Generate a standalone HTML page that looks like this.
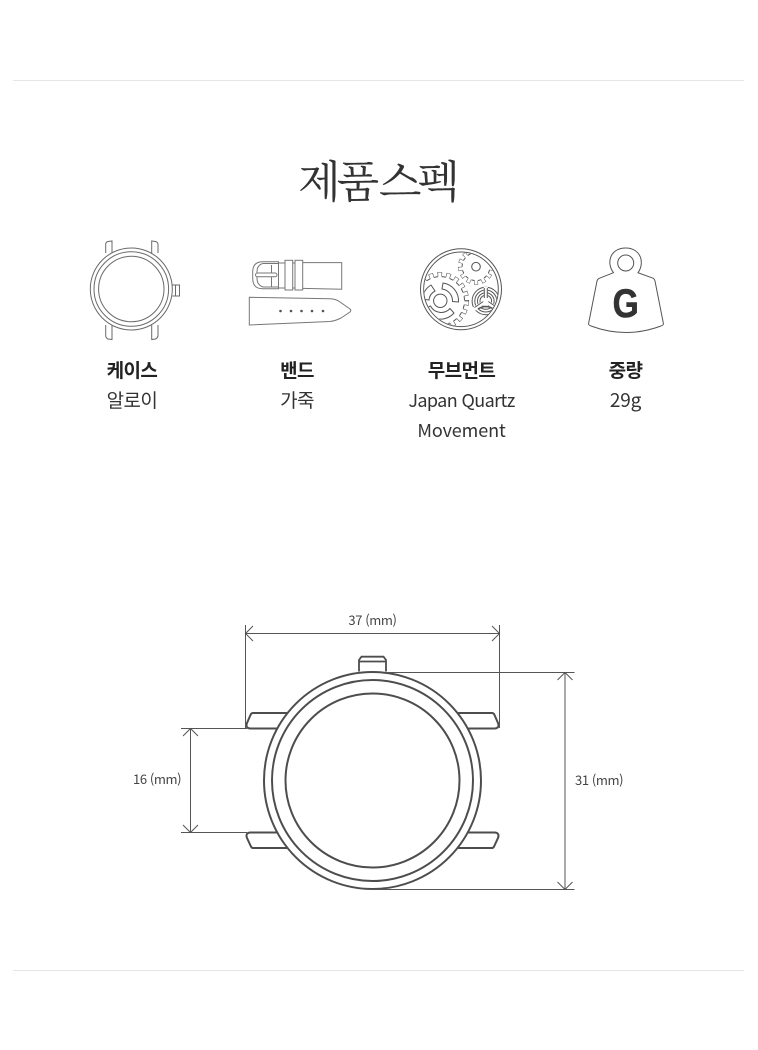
<!DOCTYPE html>
<html lang="ko"><head><meta charset="utf-8"><title>제품 스펙</title>
<style>
html,body{margin:0;padding:0;background:#fff}
svg{display:block}
text{font-family:"Liberation Sans","Noto Sans CJK KR",sans-serif}
.k{font-family:"Noto Sans CJK KR","Liberation Sans",sans-serif;text-anchor:middle;font-size:19px;fill:#333;letter-spacing:-.6px}
.l{font-size:18px;letter-spacing:-.6px}
.b{font-weight:700;fill:#222}
.d{font-family:"Noto Sans CJK KR","Liberation Sans",sans-serif;font-size:13px;fill:#444;letter-spacing:-.4px}
</style></head><body>
<svg width="758" height="1050" viewBox="0 0 758 1050" xmlns="http://www.w3.org/2000/svg">
<defs><clipPath id="mv"><circle cx="461" cy="289.3" r="36.8"/></clipPath></defs>
<rect x="13" y="80" width="731" height="1" fill="#e6e6e6"/>
<rect x="13" y="970" width="731" height="1" fill="#e6e6e6"/>
<text x="377" y="197" text-anchor="middle" style="font-family:'Noto Serif CJK SC','Noto Serif CJK KR',serif;font-size:44px;fill:#333;letter-spacing:-4px;word-spacing:-6px">제품 스펙</text>

<!-- watch icon -->
<g fill="none" stroke="#6a6a6a" stroke-width="1">
<path d="M105.7 253V244Q106 242 108 241.5L112 241V253M105.7 325V336Q106 338 108 339L112 339.5V325"/>
<path d="M151.7 253V241L155.5 241.5Q157.5 242 158 244V253M151.7 325V339.5L155.5 339Q157.5 338 158 336V325"/>
<circle cx="131.3" cy="289" r="41"/><circle cx="131.3" cy="289" r="37.3"/><circle cx="131.3" cy="289" r="32.7"/>
<path d="M172.5 285H179.5V296H172.5M175.5 285V296"/>
</g>

<!-- strap icon -->
<g fill="none" stroke="#777" stroke-width="1">
<path d="M279 261.7H262Q252.7 262 252.7 272V278Q252.7 288.7 262 288.7H279"/>
<path d="M278 263.5H263Q257 265 257 272V278Q257 285 263 287H278"/>
<path d="M271.5 265V287M278.5 262V288.5"/>
<rect x="255.5" y="273" width="21.5" height="3.8" rx="1.9" fill="#fff"/>
<rect x="285" y="260.3" width="7.7" height="29.7"/>
<rect x="295" y="260.3" width="7.7" height="29.7"/>
<path d="M278.5 263H285M278.5 288H285M292.7 263H295M292.7 288H295M302.7 262.6H341.7V289.3L302.7 288.4"/>
<path d="M249.3 297.3L330 298.8Q336 299 340 302L350 309Q351.5 310.5 350 312L341 318Q335 321 330 321.5L249.3 325Z"/>
</g>
<g fill="#555"><circle cx="280.5" cy="311" r="1.3"/><circle cx="291" cy="311" r="1.3"/><circle cx="301.5" cy="311" r="1.3"/><circle cx="312" cy="311" r="1.3"/><circle cx="323" cy="311" r="1.3"/></g>

<!-- movement icon -->
<g fill="none" stroke="#555" stroke-width="1">
<circle cx="461" cy="289.3" r="40.5"/><circle cx="461" cy="289.3" r="37.3"/>
<g clip-path="url(#mv)">
<!-- large gear -->
<circle cx="440.3" cy="300.8" r="26.5" pathLength="360" stroke-width="4.6" stroke-dasharray="10 8.947"/>
<circle cx="440.3" cy="300.8" r="26" pathLength="360" stroke="#fff" stroke-width="4.6" stroke-dasharray="7.4 11.547" stroke-dashoffset="-1.3"/>
<circle cx="440.3" cy="300.8" r="24" fill="#fff" stroke="none"/>
<circle cx="440.3" cy="300.8" r="24.2" pathLength="360" stroke-dasharray="9.4 9.547" stroke-dashoffset="-9.8"/>
<!-- small gear -->
<circle cx="476" cy="266.7" r="16" pathLength="360" stroke-width="4.2" stroke-dasharray="14 13.692"/>
<circle cx="476" cy="266.7" r="15.5" pathLength="360" stroke="#fff" stroke-width="4.2" stroke-dasharray="10.4 17.292" stroke-dashoffset="-1.8"/>
<circle cx="476" cy="266.7" r="13.7" fill="#fff" stroke="none"/>
<circle cx="476" cy="266.7" r="13.9" pathLength="360" stroke-dasharray="13.2 14.492" stroke-dashoffset="-13.8"/>
<circle cx="476" cy="266.7" r="4.3"/>
<!-- large gear inner -->
<circle cx="440.3" cy="300.8" r="6.7"/>
<path d="M422.5 299A18 18 0 0 1 431 285L435 291A11.5 11.5 0 0 0 429 300Z"/>
<path d="M443 283A18 18 0 0 1 458.5 302L452.5 301.5A12 12 0 0 0 442 289Z"/>
<path d="M424.5 309.5A18 18 0 0 0 454 313L450 308.5A12 12 0 0 1 430.5 306Z"/>
<!-- third wheel -->
<circle cx="485.8" cy="301" r="13.7" fill="#fff"/>
<circle cx="485.8" cy="301" r="11"/><circle cx="485.8" cy="301" r="8.3"/><circle cx="485.8" cy="301" r="5.8"/>
<path d="M485.8 301V287M485.8 301L474 309M485.8 301L497.6 309" stroke="#fff" stroke-width="4"/>
<path d="M484.3 288V298M487.3 288V298M483.3 301.5L474.5 307.5M488.3 301.5L497 307.5"/>
<path d="M478 309Q485.8 304 493.6 309" stroke-width="1.6"/>
</g></g>

<!-- weight icon -->
<g fill="none" stroke="#555" stroke-width="1">
<path d="M613.5 272.7C606 263 610 248 625.7 248C641 248 645 263 638 272.7L653.3 278.3Q654.5 279 655 281L663.3 323Q664 325 661 326Q626 339 591 326Q588 325 588.7 323L597 281Q597.5 279 599.3 278.3Z" fill="#fff"/>
<circle cx="625.7" cy="263" r="8"/>
</g>
<text transform="translate(625.7 317) scale(.84 1)" text-anchor="middle" style="font-size:40px;font-weight:700;fill:#333;stroke:#333;stroke-width:.6px">G</text>

<!-- labels -->
<text class="k b" x="132" y="377">케이스</text><text class="k" x="132" y="407">알로이</text>
<text class="k b" x="297" y="377">밴드</text><text class="k" x="297" y="407">가죽</text>
<text class="k b" x="461.5" y="377">무브먼트</text><text class="k l" x="461.5" y="407">Japan Quartz</text><text class="k" x="461.5" y="437" style="font-size:18px;letter-spacing:-.1px">Movement</text>
<text class="k b" x="625.5" y="377">중량</text><text class="k" x="625.5" y="407" style="letter-spacing:-.2px">29g</text>

<!-- large watch -->
<g fill="none" stroke="#4d4d4d" stroke-width="2">
<path d="M287 713H253Q251.5 713 250.7 714.5L246.8 723.5Q245.5 728 250 728.5H277"/>
<path d="M458 713H492Q493.5 713 494.3 714.5L498.2 723.5Q499.5 728 495 728.5H468"/>
<path d="M277 832.5H250Q245.5 833 246.8 837.5L250.7 846Q251.5 848 253 848H287"/>
<path d="M468 832.5H495Q499.5 833 498.2 837.5L494.3 846Q493.5 848 492 848H458"/>
<path d="M359 671.5V660L361.5 656.7H383.5L386 660V671.5M359 661.5H386" stroke-width="1.8"/>
<circle cx="372.5" cy="780.5" r="108.5" fill="#fff"/>
<circle cx="372.5" cy="780.5" r="100.5"/>
<circle cx="372.5" cy="780.5" r="87"/>
</g>
<!-- dimensions -->
<g fill="none" stroke="#555" stroke-width="1">
<path d="M245.5 625V728M499.5 625V728M245.5 633.5H499.5"/>
<path d="M253 626L245.5 633.5L253 641M492 626L499.5 633.5L492 641"/>
<path d="M386 672.5H574.5M372 889.5H574.5M565 672.5V889.5"/>
<path d="M557.5 680L565 672.5L572.5 680M557.5 882L565 889.5L572.5 882"/>
<path d="M181 728.5H247M181 832.5H247M190.5 728.5V832.5"/>
<path d="M183 736L190.5 728.5L198 736M183 825L190.5 832.5L198 825"/>
</g>
<text class="d" x="372.5" y="625" text-anchor="middle">37 (mm)</text>
<text class="d" x="133" y="784">16 (mm)</text>
<text class="d" x="575" y="785">31 (mm)</text>
</svg>
</body></html>
